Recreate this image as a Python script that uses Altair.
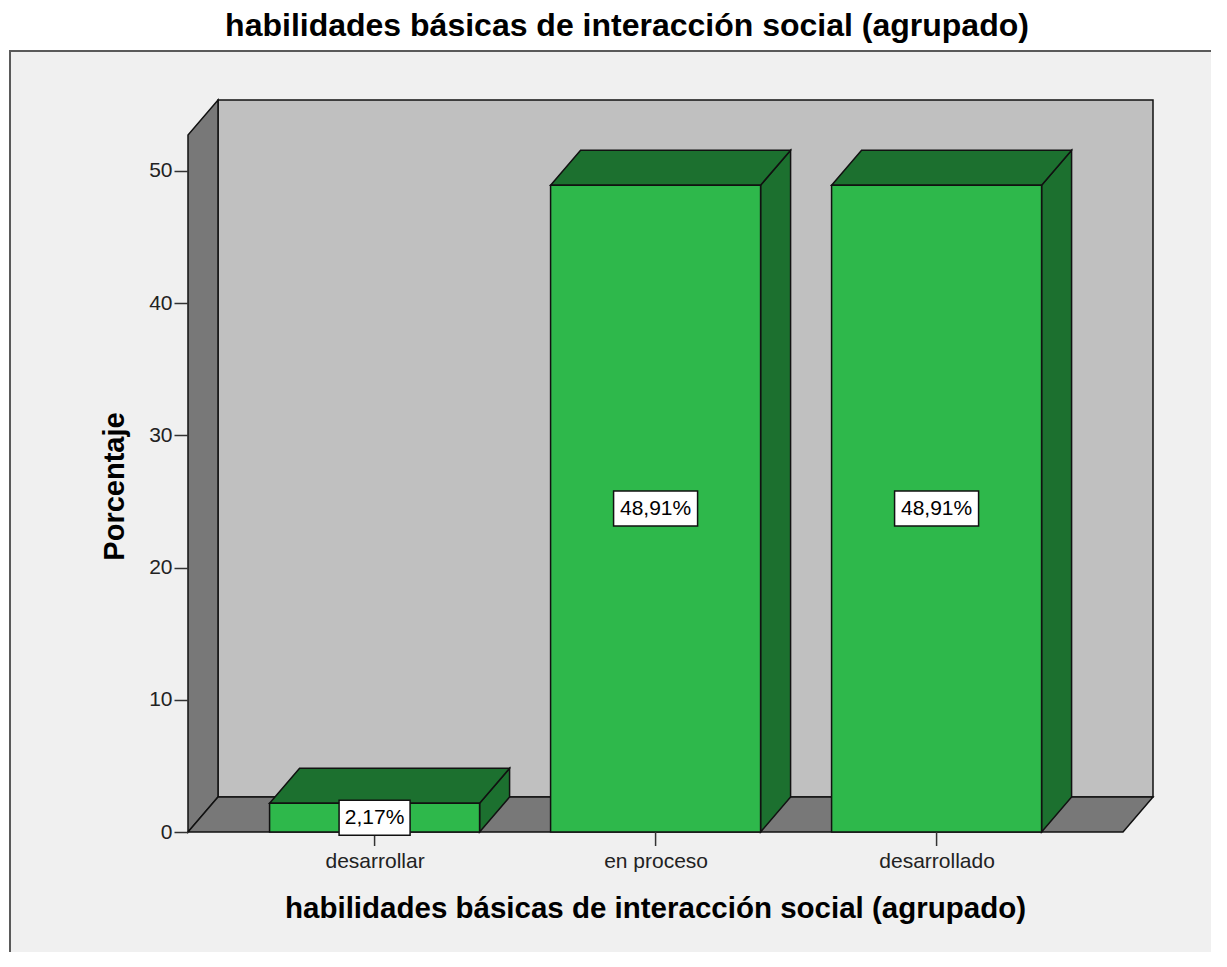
import json
import altair as alt
import pandas as pd

# ---- data ----
categories = ["desarrollar", "en proceso", "desarrollado"]
percentages = [2.17, 48.91, 48.91]
value_labels = ["2,17%", "48,91%", "48,91%"]
y_ticks = [0, 10, 20, 30, 40, 50]

title_text = "habilidades básicas de interacción social (agrupado)"
x_title = "habilidades básicas de interacción social (agrupado)"
y_title = "Porcentaje"

# ---- layout / styling constants ----
W, H = 965, 732                 # plot area in px
PX_X = 281.0                    # px per category step
X_LO = -0.664
X_HI = X_LO + W / PX_X
DX = 30 / PX_X                  # depth offset (x) in data units
Y_HI = 55.35
PX_Y = H / Y_HI
DY = 35 / PX_Y                  # depth offset (y) in data units
X_R = X_HI - DX                 # front right edge of floor
Y_TOP = Y_HI - DY               # front top of left wall
BW = 105 / PX_X                 # half bar width

GREEN = "#2eb84b"
DARK_GREEN = "#1c702f"
WALL_BACK = "#c0c0c0"
WALL_SIDE = "#787878"
EDGE = "#111111"
FONT = "Liberation Sans"

xs = alt.Scale(domain=[X_LO, X_HI], nice=False, zero=False)
ys = alt.Scale(domain=[0, Y_HI], nice=False, zero=False)

# ---- build geometry tables from the data ----
bars = pd.DataFrame({
    "idx": list(range(len(categories))),
    "cat": categories,
    "pct": percentages,
    "label": value_labels,
})
bars["x0"] = bars["idx"] - BW
bars["x1"] = bars["idx"] + BW
bars["zero"] = 0.0
bars["mid"] = bars["pct"] / 2
box_half_w = (13 * bars["label"].str.len() + 6) / 2 / PX_X
box_half_h = 17.5 / PX_Y
bars["bx0"] = bars["idx"] - box_half_w
bars["bx1"] = bars["idx"] + box_half_w
bars["by0"] = bars["mid"] - box_half_h
bars["by1"] = bars["mid"] + box_half_h

top_rows, side_rows = [], []
for _, r in bars.iterrows():
    h = r["pct"]
    x0, x1 = r["x0"], r["x1"]
    for x, lo, hi in [(x0, h, h), (x0 + DX, h, h + DY), (x1, h, h + DY), (x1 + DX, h + DY, h + DY)]:
        top_rows.append({"g": r["cat"], "x": x, "lo": lo, "hi": hi})
    for x, lo, hi in [(x1, 0, h), (x1 + DX, DY, h + DY)]:
        side_rows.append({"g": r["cat"], "x": x, "lo": lo, "hi": hi})
top_df = pd.DataFrame(top_rows)
side_df = pd.DataFrame(side_rows)

left_wall = pd.DataFrame({"g": ["w"] * 2, "x": [X_LO, X_LO + DX], "lo": [0, DY], "hi": [Y_TOP, Y_TOP + DY]})
floor = pd.DataFrame({"g": ["f"] * 4,
                      "x": [X_LO, X_LO + DX, X_R, X_R + DX],
                      "lo": [0, 0, 0, DY],
                      "hi": [0, DY, DY, DY]})
back = pd.DataFrame({"x": [X_LO + DX], "x2": [X_R + DX], "y": [DY], "y2": [Y_TOP + DY]})

label_expr = json.dumps(categories) + "[round(datum.value)]"

x_axis = alt.Axis(values=list(range(len(categories))), labelExpr=label_expr,
                  ticks=False, tickSize=0, domain=False, grid=False,
                  labelFontSize=21, labelColor="#222", labelPadding=18, labelFont=FONT,
                  title=x_title, titleFontSize=29.5, titleFontWeight="bold", titleFont=FONT,
                  titleColor="#000", titleX=467, titleY=85, titleAlign="center",
                  titleBaseline="alphabetic", titleAnchor="middle", zindex=1)
y_axis = alt.Axis(values=y_ticks, tickSize=14, tickColor="#333", tickWidth=1.5,
                  domain=False, grid=False, labelFontSize=21, labelColor="#222",
                  labelPadding=2, labelFont=FONT,
                  title=y_title, titleFontSize=29, titleFontWeight="bold", titleFont=FONT,
                  titleColor="#000", titleX=-65, titleY=386, titleAngle=-90,
                  titleAlign="center", titleBaseline="alphabetic", zindex=1)

frame = alt.Chart(pd.DataFrame({"a": [0]})).mark_rect(
    fill="#f0f0f0", stroke="#5a5a5a", strokeWidth=2
).encode(x=alt.value(-178), x2=alt.value(1200), y=alt.value(-49), y2=alt.value(1000))

heading = alt.Chart(pd.DataFrame({"t": [title_text]})).mark_text(
    fontSize=32, fontWeight="bold", font=FONT, color="#000",
    align="center", baseline="alphabetic"
).encode(x=alt.value(439), y=alt.value(-64), text="t:N")

back_wall = alt.Chart(back).mark_rect(fill=WALL_BACK, stroke=EDGE, strokeWidth=1.5).encode(
    x=alt.X("x:Q", scale=xs, axis=x_axis), x2="x2:Q",
    y=alt.Y("y:Q", scale=ys, axis=y_axis), y2="y2:Q")


def poly(df, color):
    return alt.Chart(df).mark_area(fill=color, stroke=EDGE, strokeWidth=1.5,
                                   strokeJoin="miter", interpolate="linear").encode(
        x=alt.X("x:Q", scale=xs), y=alt.Y("lo:Q", scale=ys), y2="hi:Q", detail="g:N")


left_layer = poly(left_wall, WALL_SIDE)
floor_layer = poly(floor, WALL_SIDE)
side_layer = poly(side_df, DARK_GREEN)
top_layer = poly(top_df, DARK_GREEN)

front = alt.Chart(bars).mark_rect(fill=GREEN, stroke=EDGE, strokeWidth=1.5).encode(
    x=alt.X("x0:Q", scale=xs), x2="x1:Q", y=alt.Y("zero:Q", scale=ys), y2="pct:Q")

ticks = alt.Chart(bars).mark_rule(color="#333", strokeWidth=1.5).encode(
    x=alt.X("idx:Q", scale=xs), y=alt.value(H), y2=alt.value(H + 14))

boxes = alt.Chart(bars).mark_rect(fill="white", stroke=EDGE, strokeWidth=1.5).encode(
    x=alt.X("bx0:Q", scale=xs), x2="bx1:Q", y=alt.Y("by0:Q", scale=ys), y2="by1:Q")

texts = alt.Chart(bars).mark_text(fontSize=21, font=FONT, color="#000",
                                  align="center", baseline="middle").encode(
    x=alt.X("idx:Q", scale=xs), y=alt.Y("mid:Q", scale=ys), text="label:N")

chart = alt.layer(
    frame, heading, back_wall, left_layer, floor_layer, side_layer, top_layer, front,
    ticks, boxes, texts
).properties(
    width=W, height=H,
    autosize=alt.AutoSizeParams(type="none"),
    padding={"left": 180, "top": 92, "right": 58, "bottom": 120},
).configure(background="white").configure_view(stroke=None)

chart.save("out.html", embed_options={"renderer": "svg", "actions": False})
